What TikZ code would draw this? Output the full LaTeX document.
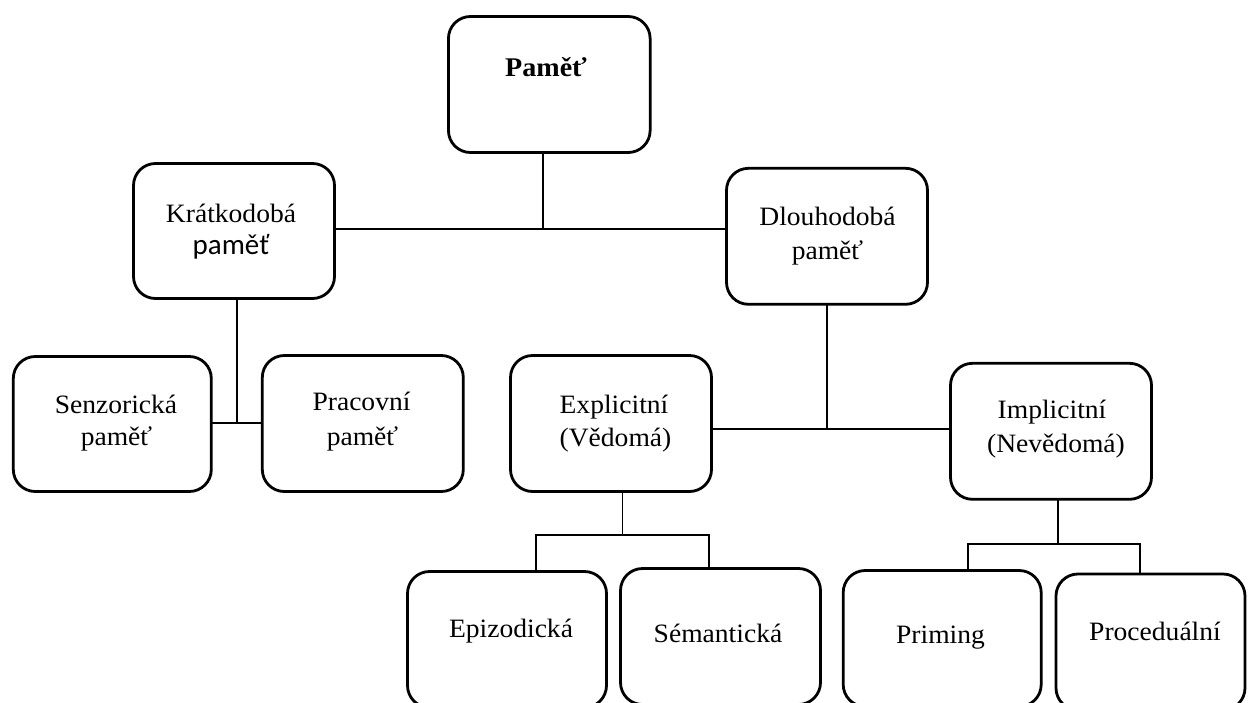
\documentclass[tikz,border=0pt]{standalone}
\usepackage{fontspec}
\setmainfont{Liberation Serif}[FakeStretch=1.04]
\newfontfamily\calib{Carlito}
\begin{document}
\begin{tikzpicture}[x=1pt,y=-1pt,
  box/.style={draw=black, line width=2.8pt, rounded corners=22pt, inner sep=0pt, outer sep=0pt, fill=white},
  conn/.style={draw=black, line width=1.8pt},
  lbl/.style={anchor=base, inner sep=0pt, font=\fontsize{26.5}{30}\selectfont}]
\useasboundingbox (0,0) rectangle (1248,702);
\fill[white] (0,0) rectangle (1248,702);
\clip (0,0) rectangle (1248,702);

% boxes
\node[box, minimum width=201.7pt, minimum height=136pt] (pamet) at (549.3,84.5) {};
\node[box, minimum width=201pt, minimum height=135pt] (kratk) at (234,231) {};
\node[box, minimum width=201pt, minimum height=136pt] (dlouh) at (827,236.3) {};
\node[box, minimum width=198pt, minimum height=135pt] (senz) at (112.3,424) {};
\node[box, minimum width=201pt, minimum height=136pt] (prac) at (362.8,423.5) {};
\node[box, minimum width=201pt, minimum height=136pt] (expl) at (611,423.5) {};
\node[box, minimum width=201pt, minimum height=136pt] (impl) at (1051,431.3) {};
\node[box, minimum width=199pt, minimum height=136pt] (epiz) at (507,639.5) {};
\node[box, minimum width=200pt, minimum height=136pt] (sem) at (720.5,636.5) {};
\node[box, minimum width=198pt, minimum height=136pt] (prim) at (942.2,638.5) {};
\node[box, minimum width=189pt, minimum height=136pt] (proc) at (1150.5,642) {};

% junctions
\coordinate (j1) at (543,229);
\coordinate (j2) at (237,423);
\coordinate (j3) at (826.7,429);
\coordinate (j4) at (622.5,535);
\coordinate (e1) at (536,535);
\coordinate (e2) at (709,535);
\coordinate (j5) at (1058,544);
\coordinate (i1) at (968,544);
\coordinate (i2) at (1140,544);

% connectors
\draw[conn] (pamet.south -| j1) -- (j1);
\draw[conn] (kratk.east |- j1) -- (dlouh.west |- j1);
\draw[conn] (kratk.south -| j2) -- (j2);
\draw[conn] (senz.east |- j2) -- (prac.west |- j2);
\draw[conn] (dlouh.south -| j3) -- (j3);
\draw[conn] (expl.east |- j3) -- (impl.west |- j3);
\draw[conn] (expl.south -| j4) -- (j4);
\draw[conn] (epiz.north -| e1) -- (e1) -- (e2) -- (sem.north -| e2);
\draw[conn] (impl.south -| j5) -- (j5);
\draw[conn] (prim.north -| i1) -- (i1) -- (i2) -- (proc.north -| i2);

% labels
\node[lbl, font=\fontsize{27}{30}\selectfont\bfseries] (tpamet) at (546,76) {Paměť};
\node[lbl] (tkr1) at (231,222) {Krátkodobá};
\node[lbl, font=\fontsize{29}{32}\selectfont\calib] (tkr2) at (231,254) {paměť};
\node[lbl] (tdl1) at (827.5,225.7) {Dlouhodobá};
\node[lbl] (tdl2) at (827.5,259) {paměť};
\node[lbl] (tse1) at (116,413) {Senzorická};
\node[lbl] (tse2) at (116.5,445) {paměť};
\node[lbl] (tpr1) at (361.5,410.7) {Pracovní};
\node[lbl] (tpr2) at (362.5,445.5) {paměť};
\node[lbl] (tex1) at (614,413.3) {Explicitní};
\node[lbl] (tex2) at (615.5,446.7) {(Vědomá)};
\node[lbl] (tim1) at (1052,418) {Implicitní};
\node[lbl] (tim2) at (1056,452.7) {(Nevědomá)};
\node[lbl] (tep) at (511,637) {Epizodická};
\node[lbl] (tsem) at (718,642.7) {Sémantická};
\node[lbl] (tpri) at (940.5,643) {Priming};
\node[lbl] (tpro) at (1155,640) {Proceduální};
\end{tikzpicture}
\end{document}
